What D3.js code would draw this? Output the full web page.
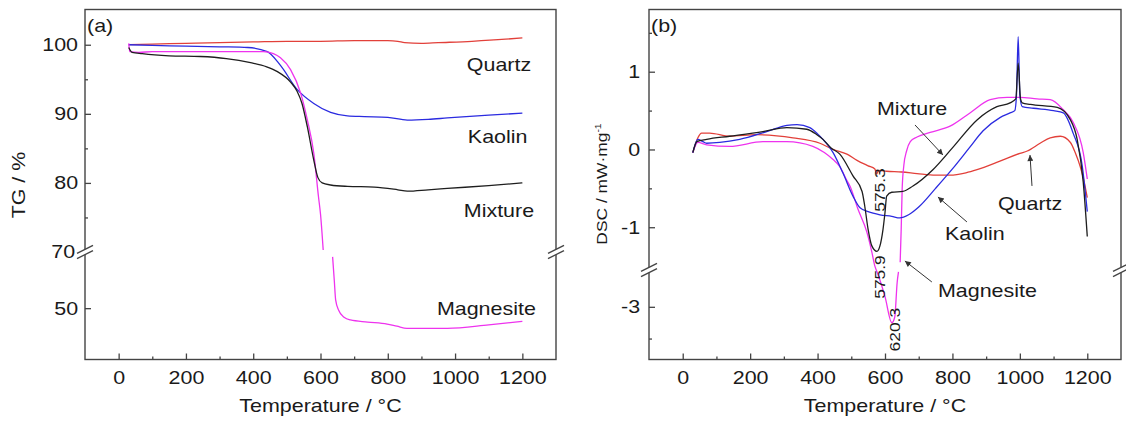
<!DOCTYPE html>
<html>
<head>
<meta charset="utf-8">
<script src="https://cdn.jsdelivr.net/npm/d3@7"></script>
<style>
  body { margin: 0; background: #fff; }
  svg { display: block; }
</style>
</head>
<body>
<svg id="chart" width="1126" height="421"></svg>
<script>
// ---------- data: temperature (°C) and signal pairs ----------
// TG, mass %
const tgQuartz = [[30,100.0],[100,100.1],[200,100.2],[300,100.3],[400,100.4],[500,100.5],[600,100.5],[700,100.6],[800,100.6],[830,100.5],[850,100.3],[900,100.2],[950,100.3],[1050,100.5],[1150,100.8],[1200,101.0]];
const tgKaolin = [[30,100.0],[100,99.9],[200,99.8],[300,99.7],[384,99.6],[442,99.0],[481,97.0],[531,93.5],[580,91.5],[630,90.2],[680,89.7],[730,89.6],[800,89.5],[858,89.1],[920,89.2],[977,89.4],[1100,89.8],[1200,90.1]];
const tgMixture = [[30,99.6],[40,98.9],[70,98.7],[150,98.4],[243,98.3],[320,98.0],[392,97.4],[440,96.8],[472,96.1],[511,94.6],[530,93.3],[545,91.5],[561,88.1],[580,83.3],[592,80.8],[605,80.0],[630,79.7],[680,79.5],[760,79.4],[830,79.0],[858,78.8],[920,79.0],[977,79.2],[1100,79.6],[1200,80.0]];
const tgMagnesite = [[30,100.2],[33,99.0],[60,98.9],[100,99.0],[184,99.0],[300,99.0],[430,99.0],[460,98.7],[481,98.1],[511,96.4],[541,93.0],[561,89.1],[580,84.3],[594,78.0],[600,75.5],[608,70.3],null,[636,57.4],[641,54.0],[645,51.2],[654,49.7],[670,48.7],[689,48.3],[740,48.0],[798,47.7],[827,47.4],[857,47.1],[920,47.1],[977,47.1],[1100,47.6],[1200,48.1]];

// DSC, mW/mg
const dscQuartz = [[30,-0.04],[45,0.15],[56,0.21],[80,0.21],[139,0.17],[219,0.19],[327,0.15],[407,0.08],[446,0.0],[487,-0.06],[517,-0.14],[550,-0.21],[570,-0.25],[575.3,-0.32],[580,-0.27],[605,-0.28],[650,-0.29],[695,-0.31],[750,-0.33],[793,-0.33],[840,-0.30],[873,-0.26],[941,-0.15],[1000,-0.05],[1022,-0.02],[1060,0.08],[1090,0.15],[1120,0.17],[1150,0.09],[1165,-0.05],[1179,-0.22],[1190,-0.40],[1200,-0.62]];
const dscKaolin = [[30,-0.04],[40,0.10],[45,0.13],[60,0.10],[71,0.08],[110,0.09],[169,0.13],[249,0.23],[309,0.31],[339,0.32],[377,0.28],[400,0.20],[416,0.13],[446,-0.04],[475,-0.30],[505,-0.60],[526,-0.75],[550,-0.80],[585,-0.84],[620,-0.86],[644,-0.88],[670,-0.84],[700,-0.74],[750,-0.50],[800,-0.25],[850,0.02],[891,0.24],[941,0.41],[971,0.47],[985,0.50],[990,0.70],[995,1.45],[1000,0.70],[1007,0.55],[1040,0.53],[1100,0.50],[1129,0.47],[1158,0.21],[1185,-0.21],[1200,-0.80]];
const dscMixture = [[30,-0.04],[42,0.10],[71,0.13],[139,0.17],[238,0.23],[309,0.28],[368,0.26],[398,0.19],[416,0.13],[440,0.02],[466,-0.06],[505,-0.34],[532,-0.54],[540,-0.73],[550,-1.03],[561,-1.24],[575.9,-1.31],[585,-1.24],[594,-1.03],[600,-0.81],[605,-0.60],[620,-0.55],[653,-0.54],[683,-0.47],[742,-0.26],[800,0.02],[873,0.38],[932,0.55],[971,0.60],[988,0.65],[995,1.11],[1002,0.65],[1007,0.60],[1031,0.58],[1111,0.54],[1150,0.38],[1170,0.13],[1188,-0.42],[1200,-1.12]];
const dscMagnesite = [[30,-0.04],[45,0.09],[71,0.06],[139,0.04],[238,0.10],[309,0.10],[386,0.04],[420,-0.04],[446,-0.13],[466,-0.22],[487,-0.40],[496,-0.47],[520,-0.77],[546,-1.06],[561,-1.32],[570,-1.50],[578,-2.47],[600,-2.84],[620.3,-3.25],[629,-3.16],[636,-2.62],[640,-2.45],null,[645,-1.45],[648,-1.03],[651,-0.50],[656,-0.20],[664,-0.02],[675,0.10],[695,0.16],[734,0.22],[793,0.30],[852,0.47],[912,0.64],[962,0.67],[1001,0.67],[1051,0.65],[1090,0.64],[1129,0.51],[1158,0.35],[1188,-0.04],[1200,-0.38]];

// axis ticks
const tempTicks = [0, 200, 400, 600, 800, 1000, 1200];
const tempMinor = [-100, 100, 300, 500, 700, 900, 1100];
const tgTicksUpper = [80, 90, 100];
const tgMinorUpper = [75, 85, 95];
const tgBreakTick = [70];
const tgTicksLower = [50];
const dscTicksUpper = [-1, 0, 1];
const dscMinorUpper = [-0.5, 0.5, 1.5];
const dscTicksLower = [-3];
const dscMinorLower = [-3.5];

// series labels (temperature, value)
const tgLabels = [
  {text: "Quartz", t: 1035, v: 96.19},
  {text: "Kaolin", t: 1038, v: 85.77},
  {text: "Mixture", t: 1026, v: 75.06},
  {text: "Magnesite", t: 946, v: 49.02}
];
const dscLabels = [
  {text: "Mixture", t: 576, v: 0.444},
  {text: "Quartz", t: 935, v: -0.778},
  {text: "Kaolin", t: 778, v: -1.164},
  {text: "Magnesite", t: 757, v: -2.845}
];
// peak temperatures written vertically beside the peaks
const dscPeakLabels = [
  {text: "575.3", t: 600, v: -0.521},
  {text: "575.9", t: 600, v: -2.53},
  {text: "620.3", t: 644, v: -3.36}
];
// leader arrows (from label toward curve)
const dscArrows = [
  {from: [689, 0.315], to: [772, -0.071]},
  {from: [1036, -0.469], to: [1030, -0.071]},
  {from: [843, -0.932], to: [757, -0.611]},
  {from: [739, -2.609], to: [659, -1.434]}
];

// ---------- styling ----------
const FONT = '"Liberation Sans", Arial, Helvetica, sans-serif';
const FS = 18.5;          // main text size
const SX = 1.16;          // horizontal glyph widening
const AXIS = "#444";
const TXT = "#1a1a1a";
const colors = {quartz: "#e2403a", kaolin: "#2b2be0", mixture: "#1e1e1e", magnesite: "#ee33ee"};

const svg = d3.select("#chart");
svg.append("defs").append("marker")
  .attr("id", "head").attr("viewBox", "0 0 10 10").attr("refX", 10).attr("refY", 5)
  .attr("markerWidth", 8).attr("markerHeight", 6).attr("markerUnits", "userSpaceOnUse")
  .attr("orient", "auto")
  .append("path").attr("d", "M0,0 L10,5 L0,10 Z").attr("fill", "#333");

// broken value scale: upper and lower segments, nothing in between
function broken(upper, lower) {
  const lo = upper.domain()[0], hi = lower.domain()[1];
  return v => v >= lo ? upper(v) : (v <= hi ? lower(v) : NaN);
}

function styleAxis(g) {
  g.select(".domain").remove();
  g.attr("font-family", FONT).attr("font-size", FS);
  g.selectAll("line").attr("stroke", AXIS).attr("stroke-width", 1.3);
  g.selectAll("text").attr("fill", TXT).attr("transform", `scale(${SX},1)`);
}

function text(g, x, y, s, size, rot, anchor) {
  return g.append("text")
    .attr("transform", `translate(${x},${y})${rot ? ` rotate(${rot})` : ""} scale(${SX},1)`)
    .attr("font-family", FONT).attr("font-size", size).attr("fill", TXT)
    .attr("text-anchor", anchor || "start").text(s);
}

function breakMark(g, x, y) {
  const o = 2.6;
  g.append("path")
    .attr("d", `M${x-8},${y+4-o} L${x+8},${y-4-o} L${x+8},${y-4+o} L${x-8},${y+4+o} Z`)
    .attr("fill", "#fff");
  [-o, o].forEach(d => g.append("line")
    .attr("x1", x - 8).attr("y1", y + 4 + d).attr("x2", x + 8).attr("y2", y - 4 + d)
    .attr("stroke", AXIS).attr("stroke-width", 1.3));
}

function drawPanel(cfg) {
  const g = svg.append("g");
  const {x, yU, yL, left, right, top, bottom} = cfg;
  const y = broken(yU, yL);
  const breakY = yU.range()[0];

  // curves
  const line = d3.line()
    .defined(d => d != null && !isNaN(y(d[1])))
    .x(d => x(d[0])).y(d => y(d[1]))
    .curve(d3.curveMonotoneX);
  cfg.series.forEach(s => g.append("path")
    .attr("d", line(s.data)).attr("fill", "none")
    .attr("stroke", s.color).attr("stroke-width", 1.3).attr("stroke-linejoin", "round"));

  // frame
  g.append("rect").attr("x", left).attr("y", top).attr("width", right - left).attr("height", bottom - top)
    .attr("fill", "none").attr("stroke", AXIS).attr("stroke-width", 1.4);

  // temperature axis
  g.append("g").attr("transform", `translate(0,${bottom})`)
    .call(d3.axisBottom(x).tickValues(tempTicks).tickSize(-6).tickPadding(11).tickFormat(d => String(d)))
    .call(styleAxis);
  g.append("g").attr("transform", `translate(0,${bottom})`)
    .call(d3.axisBottom(x).tickValues(tempMinor.filter(t => x(t) > left + 1)).tickSize(-3).tickFormat(""))
    .call(styleAxis);

  // value axis, both segments
  const ax = (scale, vals, size, pad) => g.append("g").attr("transform", `translate(${left},0)`)
    .call(d3.axisLeft(scale).tickValues(vals).tickSize(size).tickPadding(pad).tickFormat(size === -3 ? "" : d => String(d)))
    .call(styleAxis);
  ax(yU, cfg.majorU, -6, cfg.pad);
  ax(yU, cfg.minorU, -3, cfg.pad);
  ax(yL, cfg.majorL, -6, cfg.pad);
  if (cfg.minorL.length) ax(yL, cfg.minorL, -3, cfg.pad);
  if (cfg.breakTick.length) ax(yU, cfg.breakTick, 0, cfg.pad + 2.5);

  breakMark(g, left, breakY);
  breakMark(g, right, breakY);

  // title
  text(g, (left + right) / 2, 412, "Temperature / °C", FS, 0, "middle");
  return {g, x, y};
}

// ---------- panel (a): TG ----------
const xA = d3.scaleLinear().domain([-100, 1300]).range([85, 556]);
const yAU = d3.scaleLinear().domain([70, 105.1]).range([252, 9.5]);
const yAL = d3.scaleLinear().domain([42.6, 58.1]).range([359.5, 252]);
const pA = drawPanel({
  x: xA, yU: yAU, yL: yAL, left: 85, right: 556, top: 9.5, bottom: 359.5, pad: 6,
  majorU: tgTicksUpper, minorU: tgMinorUpper, majorL: tgTicksLower, minorL: [], breakTick: tgBreakTick,
  series: [
    {data: tgQuartz, color: colors.quartz},
    {data: tgKaolin, color: colors.kaolin},
    {data: tgMagnesite, color: colors.magnesite},
    {data: tgMixture, color: colors.mixture}
  ]
});
text(pA.g, pA.x(-94), pA.y(101.84), "(a)", FS);
tgLabels.forEach(d => text(pA.g, pA.x(d.t), pA.y(d.v), d.text, FS));
text(pA.g, 25, 185, "TG / %", FS, -90, "middle");

// ---------- panel (b): DSC ----------
const xB = d3.scaleLinear().domain([-100, 1300]).range([649, 1121]);
const yBU = d3.scaleLinear().domain([-1.55, 1.8]).range([270, 9.5]);
const yBL = d3.scaleLinear().domain([-3.83, -2.42]).range([359.5, 270]);
const pB = drawPanel({
  x: xB, yU: yBU, yL: yBL, left: 649, right: 1121, top: 9.5, bottom: 359.5, pad: 7.6,
  majorU: dscTicksUpper, minorU: dscMinorUpper, majorL: dscTicksLower, minorL: dscMinorLower, breakTick: [],
  series: [
    {data: dscQuartz, color: colors.quartz},
    {data: dscMagnesite, color: colors.magnesite},
    {data: dscKaolin, color: colors.kaolin},
    {data: dscMixture, color: colors.mixture}
  ]
});
text(pB.g, pB.x(-94), pB.y(1.511), "(b)", FS);
dscLabels.forEach(d => text(pB.g, pB.x(d.t), pB.y(d.v), d.text, FS));
dscPeakLabels.forEach(d => text(pB.g, pB.x(d.t), pB.y(d.v), d.text, 15, -90, "middle"));
dscArrows.forEach(a => pB.g.append("line")
  .attr("x1", pB.x(a.from[0])).attr("y1", pB.y(a.from[1]))
  .attr("x2", pB.x(a.to[0])).attr("y2", pB.y(a.to[1]))
  .attr("stroke", "#333").attr("stroke-width", 1).attr("marker-end", "url(#head)"));

const dscTitle = text(pB.g, 607, 184, "DSC / mW·mg", 15, -90, "middle");
dscTitle.append("tspan").attr("font-size", 9).attr("dy", -6).text("-1");
</script>
</body>
</html>
